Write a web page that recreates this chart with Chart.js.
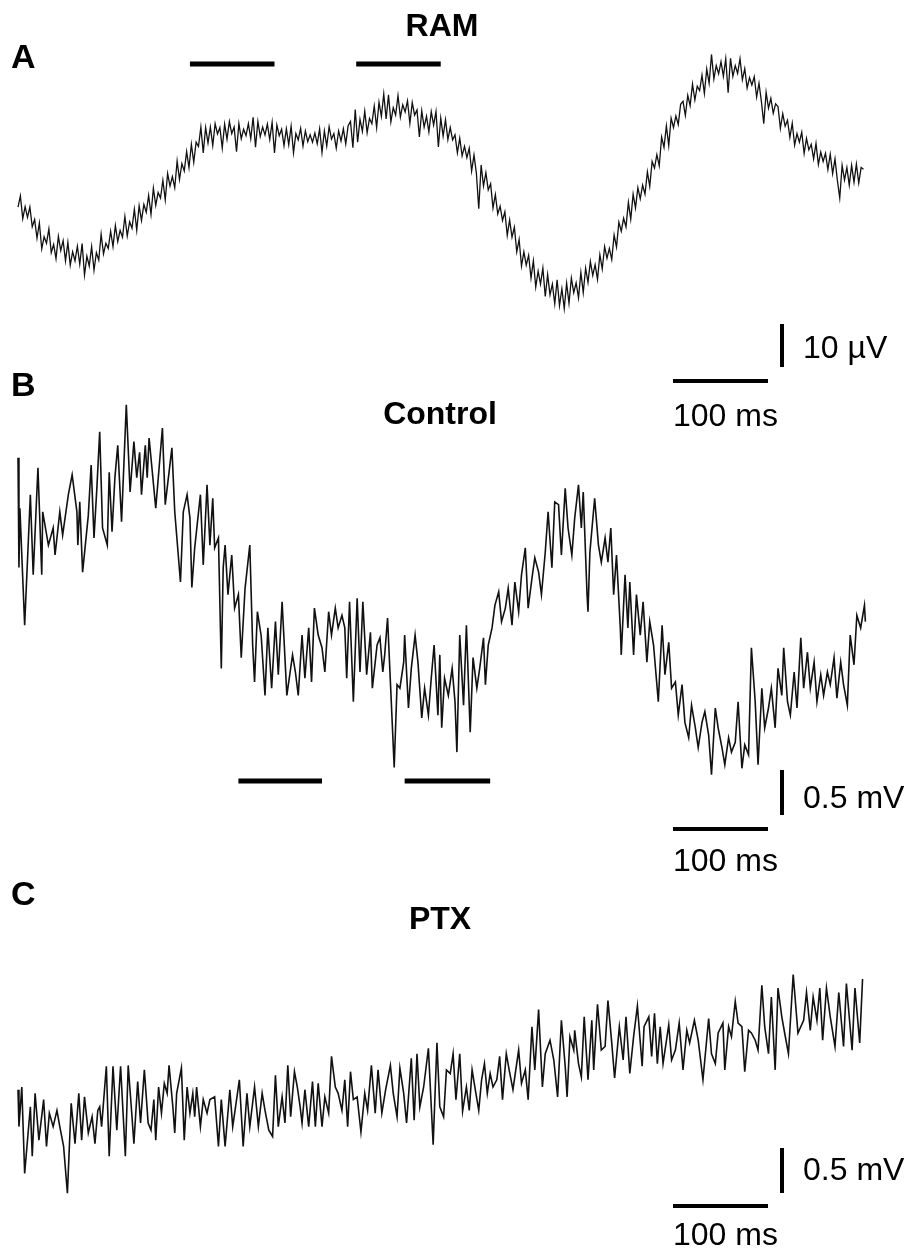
<!DOCTYPE html>
<html>
<head>
<meta charset="utf-8">
<script src="https://cdn.jsdelivr.net/npm/chart.js@4/dist/chart.umd.min.js"></script>
<style>
  html, body { margin: 0; padding: 0; background: #fff; }
  #wrap { position: relative; width: 921px; height: 1255px; overflow: hidden; }
  #fig { position: absolute; left: 0; top: 0; }
  .lbl { position: absolute; font-family: "Liberation Sans", Arial, sans-serif; font-size: 32px; line-height: 1; color: #000; white-space: nowrap; }
  .b { font-weight: bold; }
  .c { transform: translateX(-50%); }
</style>
</head>
<body>
<div id="wrap">
  <canvas id="fig" width="921" height="1255"></canvas>

  <div class="lbl b" style="left:11px;top:39px;font-size:34px">A</div>
  <div class="lbl b c" style="left:442px;top:9px">RAM</div>
  <div class="lbl" style="left:803px;top:331px">10 µV</div>
  <div class="lbl" style="left:673px;top:399px">100 ms</div>

  <div class="lbl b" style="left:11px;top:367px;font-size:34px">B</div>
  <div class="lbl b c" style="left:440px;top:397px">Control</div>
  <div class="lbl" style="left:803px;top:781px">0.5 mV</div>
  <div class="lbl" style="left:673px;top:844px">100 ms</div>

  <div class="lbl b" style="left:11px;top:876px;font-size:34px">C</div>
  <div class="lbl b c" style="left:440px;top:902px">PTX</div>
  <div class="lbl" style="left:803px;top:1153px">0.5 mV</div>
  <div class="lbl" style="left:673px;top:1218px">100 ms</div>
</div>

<script>
// ---- data ----

// A: RAM trace, sampled every 2.5 ms, in µV
const ramStepMs = 2.5;
const ramUV = [
  24.4, 27.0, 21.7, 24.5, 22.0, 24.4, 19.8, 21.5, 17.2, 20.7, 14.7, 17.5, 16.0, 19.3, 13.8, 15.7, 12.4, 17.6, 14.3, 16.6,
  11.9, 16.2, 10.9, 14.0, 11.9, 15.3, 11.1, 15.9, 8.6, 13.0, 10.7, 15.2, 9.7, 13.8, 12.1, 18.1, 13.5, 16.0, 14.8, 18.8,
  15.2, 20.1, 16.4, 19.0, 17.4, 22.2, 17.7, 21.0, 19.5, 23.9, 19.0, 24.7, 21.3, 25.0, 23.2, 27.1, 22.7, 28.8, 24.8, 27.8,
  26.5, 30.6, 26.1, 32.2, 29.3, 31.5, 28.9, 35.1, 30.8, 34.5, 32.8, 37.3, 33.6, 39.0, 34.8, 39.5, 38.5, 43.0, 37.0, 42.9,
  39.3, 43.0, 38.7, 43.8, 41.4, 42.9, 38.1, 43.7, 40.2, 44.3, 41.5, 43.0, 37.3, 43.8, 40.3, 42.5, 41.0, 43.8, 40.3, 45.3,
  38.3, 44.3, 40.8, 43.0, 41.2, 43.7, 40.1, 44.1, 37.0, 43.5, 41.0, 42.5, 38.7, 42.6, 38.9, 43.2, 37.0, 41.5, 40.0, 42.7,
  38.6, 42.1, 39.6, 41.2, 39.5, 41.6, 39.1, 42.6, 37.1, 42.1, 38.6, 43.1, 40.2, 41.5, 38.1, 42.1, 39.8, 42.6, 39.1, 43.3,
  44.3, 38.2, 47.1, 39.5, 44.8, 42.0, 46.7, 41.7, 45.0, 43.8, 47.9, 42.9, 48.8, 45.5, 50.7, 44.9, 50.5, 44.2, 47.5, 45.8,
  50.3, 45.3, 48.2, 46.5, 49.1, 43.9, 48.7, 45.8, 47.0, 40.7, 46.8, 43.0, 45.5, 41.9, 46.6, 43.5, 46.6, 38.4, 45.1, 40.9,
  44.7, 40.1, 42.9, 40.0, 41.2, 37.0, 40.4, 36.3, 38.5, 35.9, 38.1, 32.8, 36.5, 32.3, 24.0, 34.2, 29.3, 32.4, 28.4, 29.8,
  24.2, 27.3, 22.8, 24.6, 21.3, 23.3, 17.8, 21.4, 17.4, 19.7, 14.0, 16.9, 10.7, 14.0, 10.9, 13.2, 7.9, 11.9, 5.8, 9.5,
  6.5, 10.2, 3.6, 8.7, 4.0, 6.5, 1.9, 7.5, 1.5, 5.4, 0.8, 6.7, 2.0, 7.9, 4.5, 6.8, 3.3, 9.2, 4.5, 10.2,
  6.9, 11.7, 8.5, 11.0, 7.6, 13.3, 10.0, 15.2, 12.5, 14.8, 12.2, 17.9, 15.1, 20.9, 18.8, 21.8, 19.8, 25.5, 21.6, 27.4,
  24.2, 28.9, 26.3, 29.5, 27.4, 32.6, 29.2, 35.0, 33.5, 36.6, 34.0, 40.7, 38.3, 43.3, 38.7, 45.1, 42.9, 45.6, 43.6, 48.3,
  49.0, 45.7, 50.4, 48.0, 53.0, 49.3, 52.5, 51.5, 55.1, 50.8, 56.5, 53.2, 59.9, 54.2, 57.3, 55.4, 58.2, 54.8, 58.9, 51.0,
  59.0, 54.8, 57.3, 55.5, 58.9, 54.0, 56.6, 52.1, 54.5, 52.8, 54.7, 50.0, 53.2, 49.0, 43.8, 51.1, 47.4, 49.7, 46.2, 48.4,
  47.8, 42.7, 46.1, 43.2, 44.6, 40.6, 43.9, 38.8, 41.5, 39.5, 41.8, 36.9, 40.4, 37.7, 39.0, 35.6, 39.2, 34.3, 37.2, 35.0,
  36.9, 33.1, 36.7, 32.2, 35.6, 30.6, 26.5, 34.1, 30.7, 33.6, 29.5, 34.1, 30.2, 34.4, 30.0, 33.6, 33.2
];

// B: Control trace, turning points (ms, mV)
const controlMs = [
  0, 1, 2, 7, 13, 16, 21, 25, 26, 32, 37, 39, 44, 47, 53, 57, 62, 63, 65, 68,
  74, 77, 80, 83, 86, 89, 94, 96, 99, 102, 105, 109, 114, 118, 122, 125, 128, 130, 134, 136,
  138, 145, 152, 155, 162, 165, 171, 174, 178, 181, 183, 186, 192, 195, 199, 202, 205, 207, 211, 214,
  216, 218, 221, 225, 228, 232, 235, 239, 244, 247, 249, 252, 256, 260, 263, 267, 271, 274, 278, 283,
  289, 292, 295, 299, 302, 306, 309, 312, 316, 320, 323, 327, 330, 334, 337, 341, 344, 346, 349, 353,
  357, 360, 363, 367, 371, 373, 378, 381, 384, 386, 389, 392, 396, 399, 402, 406, 407, 411, 414, 418,
  421, 425, 428, 432, 435, 438, 442, 444, 446, 449, 453, 457, 460, 462, 465, 469, 472, 476, 479, 483,
  486, 490, 492, 495, 499, 502, 506, 509, 513, 516, 520, 523, 527, 530, 534, 537, 541, 544, 548, 551,
  555, 558, 562, 565, 569, 572, 576, 579, 583, 586, 590, 593, 595, 599, 600, 602, 607, 611, 614, 618,
  621, 624, 627, 630, 634, 635, 639, 642, 644, 648, 651, 655, 658, 662, 665, 669, 674, 678, 681, 685,
  688, 692, 695, 699, 702, 706, 709, 713, 716, 720, 723, 727, 730, 734, 737, 741, 744, 748, 751, 755,
  758, 762, 765, 769, 772, 776, 779, 783, 786, 790, 793, 797, 800, 804, 806, 810, 813, 817, 820, 824,
  827, 831, 834, 838, 841, 845, 848, 852, 855, 859, 862, 866, 869, 873, 876, 880, 883, 887, 891, 892
];
const controlMV = [
  3.58, 2.36, 3.02, 1.72, 3.17, 2.28, 3.47, 2.28, 2.98, 2.61, 2.80, 2.50, 2.98, 2.72, 3.17, 3.39, 2.98, 2.61, 3.09, 2.31,
  2.94, 3.50, 2.69, 3.24, 3.87, 2.80, 2.61, 3.42, 2.76, 3.36, 3.72, 2.87, 4.17, 3.20, 3.76, 3.36, 3.64, 3.17, 3.72, 3.36,
  3.80, 3.02, 3.91, 3.06, 3.69, 2.98, 2.20, 2.98, 3.17, 2.91, 2.14, 2.58, 3.17, 2.39, 3.28, 2.61, 3.13, 2.58, 2.69, 1.24,
  2.36, 2.61, 2.06, 2.50, 1.91, 2.06, 1.36, 2.13, 2.61, 1.50, 1.09, 1.87, 1.60, 0.94, 1.69, 1.02, 1.76, 1.17, 1.98, 0.94,
  1.39, 1.20, 0.94, 1.61, 1.13, 1.69, 1.09, 1.91, 1.61, 1.47, 1.20, 1.87, 1.61, 1.91, 1.69, 1.83, 1.69, 1.13, 1.98, 0.87,
  2.02, 1.20, 1.98, 1.17, 1.64, 1.02, 1.50, 1.58, 1.20, 1.39, 1.80, 1.09, 0.14, 1.06, 1.02, 1.31, 1.61, 0.80, 1.24, 1.61,
  1.31, 0.69, 1.02, 0.72, 1.13, 1.50, 0.72, 1.39, 0.58, 1.13, 0.94, 1.24, 0.87, 0.31, 1.61, 0.83, 1.72, 0.53, 1.36, 1.02,
  1.24, 1.58, 1.06, 1.50, 1.69, 1.94, 2.09, 1.76, 1.91, 2.13, 1.72, 2.20, 1.87, 2.28, 2.58, 1.91, 2.24, 2.47, 2.31, 2.06,
  2.53, 2.98, 2.36, 3.09, 3.06, 2.50, 3.24, 2.80, 2.50, 2.91, 3.28, 2.80, 3.20, 2.06, 1.87, 2.53, 3.13, 2.61, 2.42, 2.69,
  2.42, 2.80, 2.06, 2.50, 1.69, 1.39, 2.28, 1.69, 2.20, 1.39, 2.06, 1.61, 1.98, 1.31, 1.76, 1.50, 0.87, 1.72, 1.17, 1.53,
  1.02, 1.09, 0.72, 1.06, 0.64, 0.47, 0.83, 0.58, 0.36, 0.64, 0.76, 0.50, 0.06, 0.80, 0.58, 0.36, 0.17, 0.47, 0.31, 0.42,
  0.87, 0.13, 0.39, 0.28, 1.47, 0.87, 0.17, 1.02, 0.58, 0.80, 1.02, 0.58, 1.24, 0.94, 1.47, 0.87, 0.72, 1.20, 0.80, 1.58,
  1.02, 1.42, 1.02, 1.31, 0.87, 1.17, 0.94, 1.20, 1.06, 1.36, 0.91, 1.31, 1.06, 0.83, 1.61, 1.28, 1.83, 1.69, 1.94, 1.76
];

// C: PTX trace, turning points (ms, mV)
const ptxMs = [
  0, 1, 4, 7, 13, 15, 18, 22, 27, 30, 33, 37, 41, 44, 48, 52, 56, 60, 64, 67,
  70, 74, 78, 81, 84, 86, 88, 93, 96, 100, 104, 108, 113, 116, 120, 122, 126, 129, 133, 137,
  140, 143, 145, 148, 151, 154, 157, 159, 163, 165, 167, 172, 175, 178, 181, 184, 186, 188, 192, 195,
  199, 202, 207, 211, 214, 218, 223, 226, 229, 233, 237, 241, 244, 249, 253, 257, 260, 264, 268, 271,
  274, 278, 281, 284, 287, 291, 294, 297, 299, 302, 306, 310, 313, 316, 320, 323, 327, 330, 334, 337,
  341, 344, 347, 350, 353, 357, 361, 365, 368, 372, 376, 379, 383, 387, 392, 395, 399, 402, 406, 409,
  414, 417, 420, 423, 427, 432, 437, 441, 444, 448, 451, 455, 458, 461, 465, 468, 472, 475, 478, 482,
  485, 488, 491, 494, 497, 500, 504, 507, 510, 514, 517, 521, 527, 530, 534, 537, 541, 544, 548, 552,
  555, 560, 564, 568, 572, 576, 578, 581, 585, 586, 590, 593, 596, 600, 604, 606, 610, 614, 618, 621,
  625, 628, 633, 637, 640, 644, 648, 652, 657, 659, 664, 667, 670, 673, 676, 679, 685, 688, 692, 696,
  700, 704, 707, 712, 716, 721, 727, 730, 734, 737, 742, 744, 748, 751, 755, 758, 762, 765, 769, 772,
  776, 779, 783, 786, 790, 793, 797, 800, 804, 807, 811, 816, 821, 827, 830, 834, 837, 841, 844, 847,
  851, 855, 860, 864, 869, 872, 878, 881, 886, 889
];
const ptxMV = [
  0.67, 0.26, 0.70, -0.26, 0.48, -0.07, 0.63, 0.11, 0.56, 0.04, 0.41, 0.26, 0.44, 0.26, 0.04, -0.48, 0.52, 0.07, 0.63, 0.11,
  0.59, 0.19, 0.37, 0.07, 0.44, 0.48, 0.26, 0.93, -0.07, 0.93, 0.22, 0.93, -0.07, 0.94, 0.37, 0.07, 0.76, 0.30, 0.89, 0.30,
  0.22, 0.56, 0.11, 0.70, 0.41, 0.74, 0.63, 0.94, 0.48, 0.19, 0.63, 0.91, 0.11, 0.70, 0.41, 0.63, 0.37, 0.70, 0.26, 0.56,
  0.41, 0.56, 0.59, 0.04, 0.56, 0.04, 0.67, 0.26, 0.48, 0.78, 0.04, 0.63, 0.26, 0.70, 0.26, 0.63, 0.44, 0.22, 0.15, 0.83,
  0.26, 0.59, 0.30, 0.94, 0.37, 0.87, 0.70, 0.48, 0.30, 0.67, 0.26, 0.76, 0.26, 0.74, 0.26, 0.59, 0.41, 1.04, 0.70, 0.63,
  0.44, 0.78, 0.26, 0.87, 0.56, 0.59, 0.20, 0.63, 0.44, 0.94, 0.41, 0.89, 0.41, 0.67, 0.94, 0.63, 0.37, 0.91, 0.63, 0.30,
  1.02, 0.33, 1.07, 0.48, 0.70, 1.13, 0.06, 1.19, 0.48, 0.37, 0.89, 0.85, 1.07, 0.56, 1.07, 0.43, 0.70, 0.44, 0.89, 0.63,
  0.44, 0.78, 0.96, 0.63, 0.85, 0.70, 0.78, 1.04, 0.56, 1.07, 0.89, 0.67, 1.11, 0.74, 0.89, 0.56, 1.37, 0.89, 1.56, 0.70,
  1.07, 1.22, 1.00, 0.59, 1.44, 0.93, 0.59, 1.26, 1.11, 1.33, 0.96, 0.81, 1.48, 0.78, 1.44, 0.89, 1.62, 1.11, 1.15, 1.66,
  1.19, 0.80, 1.37, 1.00, 1.48, 0.85, 1.26, 1.60, 0.93, 1.37, 1.48, 1.04, 1.52, 0.96, 1.37, 0.96, 1.39, 1.00, 1.11, 1.41,
  0.89, 1.33, 1.19, 1.44, 1.22, 0.78, 1.46, 1.07, 0.96, 1.30, 1.41, 0.89, 1.37, 1.26, 1.65, 1.41, 1.37, 0.87, 1.33, 1.30,
  1.22, 1.11, 1.83, 1.37, 1.07, 1.70, 0.89, 1.80, 1.48, 1.30, 1.07, 1.95, 1.30, 1.44, 1.75, 1.33, 1.70, 1.44, 1.80, 1.22,
  1.80, 1.48, 1.15, 1.75, 1.15, 1.85, 1.11, 1.80, 1.19, 1.90
];

// stimulus bars (ms) and scale bars
const ramBarsMs = [[181, 270], [356, 445]];
const controlBarsMs = [[232, 320], [407, 497]];
const scaleBarMs = 100;
const scaleBarUV = 10;
const scaleBarMV = 0.5;

// ---- page layout (pixels) ----
const W = 921, H = 1255;
const X0 = 18, PX_PER_MS = 0.95;
const panelA = { zeroPx: 312, pxPerUnit: 4.3, barPx: 64,  hScalePx: 381,  vScaleBottomPx: 367 };
const panelB = { zeroPx: 780, pxPerUnit: 90,  barPx: 781, hScalePx: 829,  vScaleBottomPx: 815 };
const panelC = { zeroPx: 1150, pxPerUnit: 90, barPx: null, hScalePx: 1206, vScaleBottomPx: 1193 };
const scaleLeftPx = 673, scaleVertPx = 782;

const pxToMs = px => (px - X0) / PX_PER_MS;
const pxToVal = (px, p) => (p.zeroPx - px) / p.pxPerUnit;

function valueAxis(p) {
  return { type: 'linear', display: false, min: (p.zeroPx - H) / p.pxPerUnit, max: p.zeroPx / p.pxPerUnit };
}

const INK = '#111';

function trace(xs, ys, axis, width) {
  return {
    data: xs.map((x, i) => ({ x, y: ys[i] })),
    yAxisID: axis,
    borderColor: INK,
    borderWidth: width,
    pointRadius: 0,
    tension: 0,
    fill: false,
  };
}

function segment(points, axis, width) {
  return {
    data: points,
    yAxisID: axis,
    borderColor: '#000',
    borderWidth: width,
    borderCapStyle: 'butt',
    pointRadius: 0,
    fill: false,
  };
}

const datasets = [
  trace(ramUV.map((_, i) => i * ramStepMs), ramUV, 'yA', 1.3),
  trace(controlMs, controlMV, 'yB', 1.6),
  trace(ptxMs, ptxMV, 'yC', 1.6),
];

// stimulus bars
ramBarsMs.forEach(([a, b]) => datasets.push(segment([{ x: a, y: panelA.barPx }, { x: b, y: panelA.barPx }], 'yPage', 5)));
controlBarsMs.forEach(([a, b]) => datasets.push(segment([{ x: a, y: panelB.barPx }, { x: b, y: panelB.barPx }], 'yPage', 5)));

// scale bars
const t0 = pxToMs(scaleLeftPx), tv = pxToMs(scaleVertPx);
[[panelA, 'yA', scaleBarUV], [panelB, 'yB', scaleBarMV], [panelC, 'yC', scaleBarMV]].forEach(([p, axis, amp]) => {
  datasets.push(segment([{ x: t0, y: p.hScalePx }, { x: t0 + scaleBarMs, y: p.hScalePx }], 'yPage', 4));
  const bottom = pxToVal(p.vScaleBottomPx, p);
  datasets.push(segment([{ x: tv, y: bottom }, { x: tv, y: bottom + amp }], axis, 4));
});

new Chart(document.getElementById('fig'), {
  type: 'line',
  data: { datasets },
  options: {
    responsive: false,
    animation: false,
    events: [],
    layout: { padding: 0 },
    scales: {
      x: { type: 'linear', display: false, min: pxToMs(0), max: pxToMs(W) },
      yA: valueAxis(panelA),
      yB: valueAxis(panelB),
      yC: valueAxis(panelC),
      yPage: { type: 'linear', display: false, reverse: true, min: 0, max: H },
    },
    plugins: { legend: { display: false }, tooltip: { enabled: false } },
  },
});
</script>
</body>
</html>
